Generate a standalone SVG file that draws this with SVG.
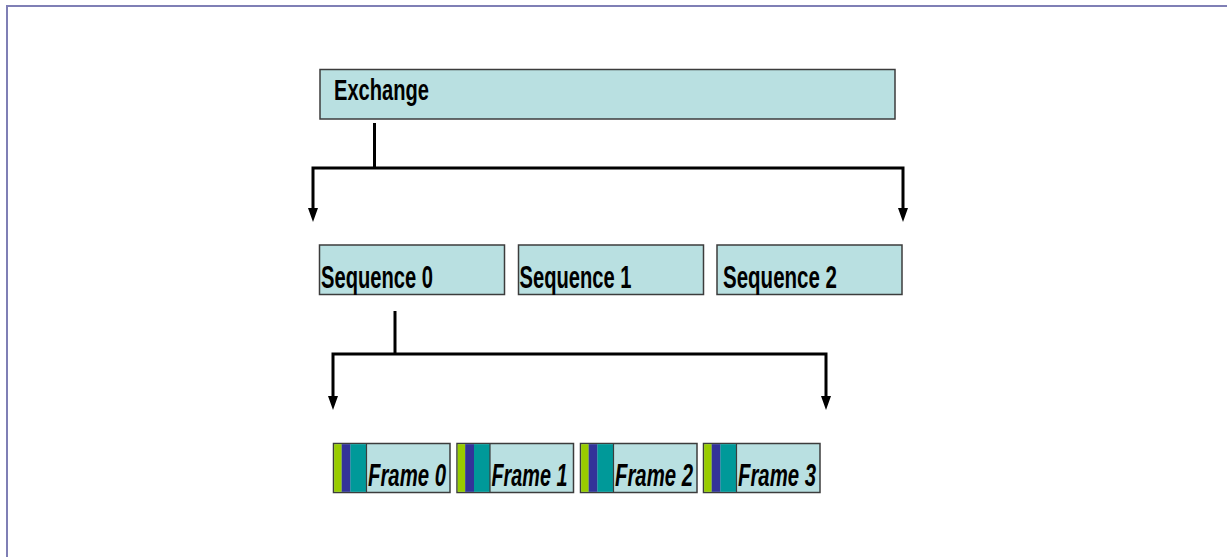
<svg xmlns="http://www.w3.org/2000/svg" width="1227" height="557" viewBox="0 0 1227 557">
  <style>
    .box { fill: #b9e0e1; stroke: #3c3c3c; stroke-width: 1.5; }
    .lbl { font-family: "Liberation Sans", Arial, sans-serif; font-weight: bold; fill: #000; }
    .frm { font-family: "Liberation Sans", Arial, sans-serif; font-weight: bold; font-style: italic; fill: #000; }
    .wire { fill: none; stroke: #000; stroke-width: 3; }
    .head { fill: #000; }
    .lime { fill: #99cc00; }
    .blue { fill: #333399; }
    .teal { fill: #009999; }
    .cut { stroke: #3c3c3c; stroke-width: 1.2; }
  </style>

  <rect width="1227" height="557" fill="#fff"/>
  <!-- page frame -->
  <rect x="7" y="6" width="1240" height="570" fill="none" stroke="#7f7fb5" stroke-width="2"/>

  <!-- connectors -->
  <g id="connectors">
    <path class="wire" d="M374.5,123 V168"/>
    <path class="wire" d="M313,208 V168 H903 V208"/>
    <path class="head" d="M308,208 L318,208 L313,222 Z M898,208 L908,208 L903,222 Z"/>
    <path class="wire" d="M395,311 V354"/>
    <path class="wire" d="M333,396 V354 H826 V396"/>
    <path class="head" d="M328,396 L338,396 L333,410 Z M821,396 L831,396 L826,410 Z"/>
  </g>

  <g id="exchange">
    <rect class="box" x="320" y="69.5" width="575" height="49.5"/>
    <text class="lbl" x="334" y="99.5" font-size="30" textLength="95" lengthAdjust="spacingAndGlyphs">Exchange</text>
  </g>

  <g id="sequence0">
    <rect class="box" x="319.5" y="245" width="185" height="49.5"/>
    <text class="lbl" x="321" y="287.5" font-size="31" textLength="112" lengthAdjust="spacingAndGlyphs">Sequence 0</text>
  </g>
  <g id="sequence1">
    <rect class="box" x="518.5" y="245" width="185" height="49.5"/>
    <text class="lbl" x="519.5" y="287.5" font-size="31" textLength="112" lengthAdjust="spacingAndGlyphs">Sequence 1</text>
  </g>
  <g id="sequence2">
    <rect class="box" x="717" y="245" width="185" height="49.5"/>
    <text class="lbl" x="723" y="287.5" font-size="31" textLength="114" lengthAdjust="spacingAndGlyphs">Sequence 2</text>
  </g>

  <g id="frame0">
    <rect class="box" x="333.5" y="443.5" width="116.5" height="49"/>
    <rect class="lime" x="334.2" y="444.2" width="7.5" height="47.6"/>
    <rect class="blue" x="341.7" y="444.2" width="8.8" height="47.6"/>
    <rect class="teal" x="350.5" y="444.2" width="16" height="47.6"/>
    <path class="cut" d="M366.5,443.5 V492.5"/>
    <text class="frm" x="368" y="485.5" font-size="31" textLength="78" lengthAdjust="spacingAndGlyphs">Frame 0</text>
  </g>
  <g id="frame1">
    <rect class="box" x="457" y="443.5" width="116.5" height="49"/>
    <rect class="lime" x="457.7" y="444.2" width="7.5" height="47.6"/>
    <rect class="blue" x="465.2" y="444.2" width="8.8" height="47.6"/>
    <rect class="teal" x="474" y="444.2" width="16" height="47.6"/>
    <path class="cut" d="M490,443.5 V492.5"/>
    <text class="frm" x="491.5" y="485.5" font-size="31" textLength="76" lengthAdjust="spacingAndGlyphs">Frame 1</text>
  </g>
  <g id="frame2">
    <rect class="box" x="580.5" y="443.5" width="116.5" height="49"/>
    <rect class="lime" x="581.2" y="444.2" width="7.5" height="47.6"/>
    <rect class="blue" x="588.7" y="444.2" width="8.8" height="47.6"/>
    <rect class="teal" x="597.5" y="444.2" width="16" height="47.6"/>
    <path class="cut" d="M613.5,443.5 V492.5"/>
    <text class="frm" x="615" y="485.5" font-size="31" textLength="78" lengthAdjust="spacingAndGlyphs">Frame 2</text>
  </g>
  <g id="frame3">
    <rect class="box" x="703.5" y="443.5" width="116.5" height="49"/>
    <rect class="lime" x="704.2" y="444.2" width="7.5" height="47.6"/>
    <rect class="blue" x="711.7" y="444.2" width="8.8" height="47.6"/>
    <rect class="teal" x="720.5" y="444.2" width="16" height="47.6"/>
    <path class="cut" d="M736.5,443.5 V492.5"/>
    <text class="frm" x="738" y="485.5" font-size="31" textLength="78" lengthAdjust="spacingAndGlyphs">Frame 3</text>
  </g>
</svg>
